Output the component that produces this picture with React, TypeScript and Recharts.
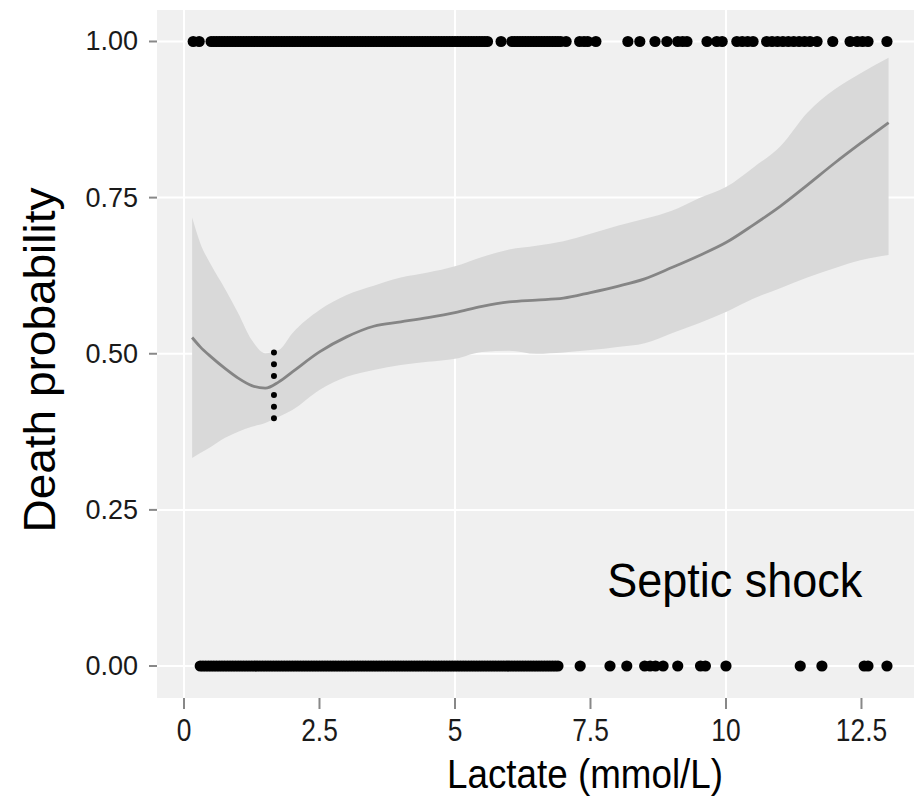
import React from "react";
import {
  ComposedChart,
  Area,
  Line,
  Scatter,
  XAxis,
  YAxis,
  CartesianGrid,
  ReferenceLine,
  ReferenceDot,
  Label,
} from "recharts";

// smoothed fit + 95% band
const fitLactate = [0.15, 0.3, 0.5, 0.75, 1.0, 1.25, 1.5, 1.75, 2.0, 2.5, 3.0, 3.5, 4.0, 4.5, 5.0, 5.5, 6.0, 6.5, 7.0, 7.5, 8.0, 8.5, 9.0, 9.5, 10.0, 10.5, 11.0, 11.5, 12.0, 12.5, 13.0];
const fitProb = [0.526, 0.511, 0.495, 0.477, 0.461, 0.449, 0.445, 0.455, 0.471, 0.503, 0.527, 0.544, 0.551, 0.558, 0.566, 0.576, 0.583, 0.586, 0.589, 0.598, 0.608, 0.62, 0.638, 0.657, 0.678, 0.706, 0.736, 0.77, 0.805, 0.838, 0.87];
const fitLower = [0.333, 0.341, 0.351, 0.365, 0.375, 0.383, 0.389, 0.399, 0.41, 0.442, 0.463, 0.474, 0.482, 0.487, 0.492, 0.503, 0.505, 0.5, 0.502, 0.506, 0.511, 0.517, 0.533, 0.549, 0.567, 0.588, 0.605, 0.622, 0.637, 0.65, 0.658];
const fitUpper = [0.718, 0.677, 0.642, 0.605, 0.565, 0.522, 0.501, 0.506, 0.533, 0.57, 0.594, 0.609, 0.622, 0.63, 0.64, 0.655, 0.667, 0.673, 0.68, 0.692, 0.705, 0.716, 0.729, 0.749, 0.767, 0.798, 0.832, 0.886, 0.923, 0.95, 0.974];

// observed lactate values, died (1) / survived (0)
const diedLactate = [
  0.17, 0.28,
  0.5, 0.55, 0.6, 0.65, 0.7, 0.75, 0.8, 0.85, 0.9, 0.95,
  1.0, 1.05, 1.1, 1.15, 1.2, 1.25, 1.3, 1.35, 1.4, 1.45,
  1.5, 1.55, 1.6, 1.65, 1.7, 1.75, 1.8, 1.85, 1.9, 1.95,
  2.0, 2.05, 2.1, 2.15, 2.2, 2.25, 2.3, 2.35, 2.4, 2.45,
  2.5, 2.55, 2.6, 2.65, 2.7, 2.75, 2.8, 2.85, 2.9, 2.95,
  3.0, 3.05, 3.1, 3.15, 3.2, 3.25, 3.3, 3.35, 3.4, 3.45,
  3.5, 3.55, 3.6, 3.65, 3.7, 3.75, 3.8, 3.85, 3.9, 3.95,
  4.0, 4.05, 4.1, 4.15, 4.2, 4.25, 4.3, 4.35, 4.4, 4.45,
  4.5, 4.55, 4.6, 4.65, 4.7, 4.75, 4.8, 4.85, 4.9, 4.95,
  5.0, 5.05, 5.1, 5.15, 5.2, 5.25, 5.3, 5.35, 5.4, 5.45, 5.5, 5.55, 5.6,
  5.85,
  6.05, 6.1, 6.15, 6.2, 6.25, 6.3, 6.35, 6.4, 6.45, 6.5,
  6.55, 6.6, 6.65, 6.7, 6.75, 6.8, 6.85, 6.9, 6.95, 7.05,
  7.3, 7.38, 7.45, 7.6,
  8.19, 8.41, 8.69, 8.91, 9.11, 9.2, 9.28, 9.65, 9.83, 9.93, 10.2, 10.3, 10.4, 10.5,
  10.75, 10.85, 10.95, 11.05, 11.15, 11.25, 11.35, 11.45, 11.55, 11.68, 11.97, 12.29,
  12.42, 12.52, 12.62, 12.97,
];
const survivedLactate = [
  0.3, 0.35, 0.4, 0.45,
  0.5, 0.55, 0.6, 0.65, 0.7, 0.75, 0.8, 0.85, 0.9, 0.95,
  1.0, 1.05, 1.1, 1.15, 1.2, 1.25, 1.3, 1.35, 1.4, 1.45,
  1.5, 1.55, 1.6, 1.65, 1.7, 1.75, 1.8, 1.85, 1.9, 1.95,
  2.0, 2.05, 2.1, 2.15, 2.2, 2.25, 2.3, 2.35, 2.4, 2.45,
  2.5, 2.55, 2.6, 2.65, 2.7, 2.75, 2.8, 2.85, 2.9, 2.95,
  3.0, 3.05, 3.1, 3.15, 3.2, 3.25, 3.3, 3.35, 3.4, 3.45,
  3.5, 3.55, 3.6, 3.65, 3.7, 3.75, 3.8, 3.85, 3.9, 3.95,
  4.0, 4.05, 4.1, 4.15, 4.2, 4.25, 4.3, 4.35, 4.4, 4.45,
  4.5, 4.55, 4.6, 4.65, 4.7, 4.75, 4.8, 4.85, 4.9, 4.95,
  5.0, 5.05, 5.1, 5.15, 5.2, 5.25, 5.3, 5.35, 5.4, 5.45,
  5.5, 5.55, 5.6, 5.65, 5.7, 5.75, 5.8, 5.85, 5.9, 5.95,
  6.0, 6.05, 6.1, 6.15, 6.2, 6.25, 6.3, 6.35, 6.4, 6.45,
  6.5, 6.55, 6.6, 6.65, 6.7, 6.75, 6.8, 6.85, 6.9,
  7.31, 7.86, 8.17, 8.5, 8.6, 8.7, 8.84, 9.11, 9.53, 9.62, 10.0, 11.37, 11.77, 12.55,
  12.62, 12.97,
];

const xTicks = [0, 2.5, 5, 7.5, 10, 12.5];
const yTicks = [0, 0.25, 0.5, 0.75, 1];
const gridX = [0, 5, 10];

const nadir = 1.66;

const fitData = fitLactate.map((x, i) => ({
  x,
  fit: fitProb[i],
  band: [fitLower[i], fitUpper[i]],
}));
const diedData = diedLactate.map((x) => ({ x, y: 1 }));
const survivedData = survivedLactate.map((x) => ({ x, y: 0 }));

const FONT = "'Liberation Sans', Arial, 'DejaVu Sans', sans-serif";

const XTick = (props: any) => {
  const { x, y, payload } = props;
  return (
    <g transform={`translate(${x},${y})`}>
      <text
        transform="scale(0.85,1)"
        textAnchor="middle"
        dy="0.71em"
        fontSize={31}
        fontFamily={FONT}
        fill="#1a1a1a"
      >
        {String(payload.value)}
      </text>
    </g>
  );
};

const YTick = (props: any) => {
  const { x, y, payload } = props;
  return (
    <text
      x={x}
      y={y}
      textAnchor="end"
      dominantBaseline="central"
      fontSize={27}
      fontFamily={FONT}
      fill="#1a1a1a"
    >
      {Number(payload.value).toFixed(2)}
    </text>
  );
};

const Dot = (props: any) => <circle cx={props.cx} cy={props.cy} r={5.6} fill="#000" />;

export default function App() {
  return (
    <div style={{ position: "absolute", left: 0, top: 0, width: 914, height: 799, background: "#fff" }}>
      <ComposedChart
        width={914}
        height={799}
        data={fitData}
        margin={{ top: 10, right: 0, bottom: 0, left: 0 }}
      >
        <CartesianGrid
          fill="#F0F0F0"
          stroke="#ffffff"
          strokeWidth={2}
          verticalValues={gridX}
          horizontalValues={yTicks}
        />
        <XAxis
          type="number"
          dataKey="x"
          domain={[-0.498, 13.469]}
          ticks={xTicks}
          allowDataOverflow
          height={101}
          axisLine={false}
          tickSize={11}
          tickMargin={10}
          tickLine={{ stroke: "#888", strokeWidth: 2 }}
          tick={<XTick />}
        >
          <Label
            content={() => (
              <text
                x={585}
                y={788}
                textAnchor="middle"
                fontSize={41}
                fontFamily={FONT}
                fill="#000"
                textLength={276}
                lengthAdjust="spacingAndGlyphs"
              >
                Lactate (mmol/L)
              </text>
            )}
          />
        </XAxis>
        <YAxis
          type="number"
          domain={[-0.0512, 1.0504]}
          ticks={yTicks}
          allowDataOverflow
          width={157}
          axisLine={false}
          tickSize={8}
          tickMargin={11}
          tickLine={{ stroke: "#888", strokeWidth: 2 }}
          tick={<YTick />}
        >
          <Label
            content={() => (
              <text
                x={39}
                y={360}
                transform="rotate(-90 39 360)"
                textAnchor="middle"
                dominantBaseline="central"
                fontSize={45}
                fontFamily={FONT}
                fill="#000"
                textLength={345}
                lengthAdjust="spacingAndGlyphs"
              >
                Death probability
              </text>
            )}
          />
        </YAxis>
        <Area
          type="monotone"
          dataKey="band"
          stroke="none"
          fill="#D9D9D9"
          fillOpacity={1}
          isAnimationActive={false}
        />
        <Line
          type="monotone"
          dataKey="fit"
          stroke="#858585"
          strokeWidth={2.8}
          dot={false}
          isAnimationActive={false}
        />
        <ReferenceLine
          segment={[{ x: nadir, y: 0.502 }, { x: nadir, y: 0.464 }]}
          stroke="#000"
          strokeWidth={6}
          strokeDasharray="0 11.7"
          strokeLinecap="round"
        />
        <ReferenceLine
          segment={[{ x: nadir, y: 0.434 }, { x: nadir, y: 0.396 }]}
          stroke="#000"
          strokeWidth={6}
          strokeDasharray="0 11.7"
          strokeLinecap="round"
        />
        <Scatter data={diedData} dataKey="y" shape={<Dot />} isAnimationActive={false} />
        <Scatter data={survivedData} dataKey="y" shape={<Dot />} isAnimationActive={false} />
        <ReferenceDot
          x={10.16}
          y={0.11}
          r={0}
          stroke="none"
          fill="none"
          label={{
            content: (p: any) => {
              const vb = p.viewBox || {};
              const cx = (vb.x ?? 734) + (vb.width ?? 0) / 2;
              const cy = (vb.y ?? 597) + (vb.height ?? 0) / 2;
              return (
                <text
                  x={cx}
                  y={cy}
                  textAnchor="middle"
                  fontSize={49}
                  fontFamily={FONT}
                  fill="#000"
                  textLength={255}
                  lengthAdjust="spacingAndGlyphs"
                >
                  Septic shock
                </text>
              );
            },
          }}
        />
      </ComposedChart>
    </div>
  );
}
